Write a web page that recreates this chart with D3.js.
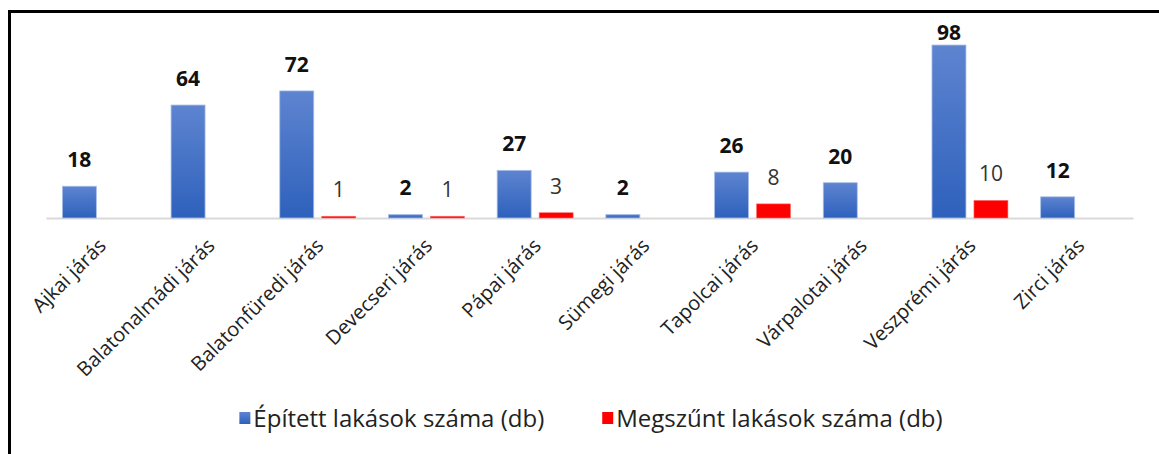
<!DOCTYPE html>
<html>
<head>
<meta charset="utf-8">
<script src="https://cdn.jsdelivr.net/npm/d3@7"></script>
<style>
  body { margin: 0; background: #fff; }
  svg text { font-family: "Open Sans", "Noto Sans", sans-serif; }
</style>
</head>
<body>
<svg id="chart" width="1159" height="454"></svg>
<script>
const categories = ["Ajkai járás", "Balatonalmádi járás", "Balatonfüredi járás", "Devecseri járás",
  "Pápai járás", "Sümegi járás", "Tapolcai járás", "Várpalotai járás", "Veszprémi járás", "Zirci járás"];
const built = [18, 64, 72, 2, 27, 2, 26, 20, 98, 12];
const demolished = [null, null, 1, 1, 3, null, 8, null, 10, null];
const seriesNames = ["Épített lakások száma (db)", "Megszűnt lakások száma (db)"];

const svg = d3.select("#chart");
const width = +svg.attr("width");
const height = +svg.attr("height");
const plot = { left: 46, right: 1133, top: 41.5, bottom: 218 };

// frame: only left + top edges are visible in the reference
svg.append("path")
  .attr("d", `M9.5,${height} V11.5 H${width}`)
  .attr("fill", "none").attr("stroke", "#000").attr("stroke-width", 3);

const defs = svg.append("defs");
const grad = defs.append("linearGradient").attr("id", "blueGrad")
  .attr("x1", 0).attr("y1", 0).attr("x2", 0).attr("y2", 1);
grad.append("stop").attr("offset", "0%").attr("stop-color", "#5E84D0");
grad.append("stop").attr("offset", "100%").attr("stop-color", "#2E61BC");

const x0 = d3.scaleBand().domain(categories).range([plot.left, plot.right]).padding(0);
const x1 = d3.scaleBand().domain(["built", "demolished"]).range([0, x0.bandwidth()])
  .paddingInner(0.19).paddingOuter(0.39);
const y = d3.scaleLinear().domain([0, 100]).range([plot.bottom, plot.top]);

const rows = categories.map((c, i) => ({ cat: c, built: built[i], demolished: demolished[i] }));

function renderAxis() {
  const axis = svg.append("g")
    .attr("transform", `translate(0,${plot.bottom})`)
    .call(d3.axisBottom(x0).tickSize(0).tickSizeOuter(0));
  axis.select(".domain").attr("stroke", "#D9D9D9").attr("stroke-width", 2);
  axis.selectAll(".tick text")
    .attr("x", 0).attr("y", 0).attr("dy", 0)
    .attr("transform", "translate(7,29) rotate(-45)")
    .attr("text-anchor", "end")
    .attr("fill", "#222")
    .style("font-size", "20px")
    .style("font-family", "'Open Sans', sans-serif");
}

function renderBars() {
  const groups = svg.append("g").selectAll("g")
    .data(rows).enter().append("g")
    .attr("transform", d => `translate(${x0(d.cat)},0)`);

  groups.append("rect")
    .attr("x", x1("built"))
    .attr("width", x1.bandwidth())
    .attr("y", d => y(d.built))
    .attr("height", d => y(0) - y(d.built))
    .attr("fill", "url(#blueGrad)")
    .attr("stroke", "#A8BFE8").attr("stroke-width", 0.8);

  groups.filter(d => d.demolished != null).append("rect")
    .attr("x", x1("demolished"))
    .attr("width", x1.bandwidth())
    .attr("y", d => y(d.demolished))
    .attr("height", d => y(0) - y(d.demolished))
    .attr("fill", "#FF0000")
    .attr("stroke", "#FF7070").attr("stroke-width", 0.6);

  groups.append("text")
    .attr("x", x1("built") + x1.bandwidth() / 2)
    .attr("y", d => Math.max(y(d.built) - 19, 40))
    .attr("text-anchor", "middle")
    .attr("fill", "#111")
    .style("font-weight", "bold")
    .style("font-size", "21px")
    .text(d => d.built);

  groups.filter(d => d.demolished != null).append("text")
    .attr("x", x1("demolished") + x1.bandwidth() / 2)
    .attr("y", d => y(d.demolished) - 19)
    .attr("text-anchor", "middle")
    .attr("fill", "#333")
    .style("font-size", "21px")
    .text(d => d.demolished);
}

function renderLegend() {
  const legend = svg.append("g");
  const colors = ["url(#blueGrad)", "#FF0000"];
  let cx = 0;
  seriesNames.forEach((name, i) => {
    const item = legend.append("g").attr("transform", `translate(${cx},0)`);
    item.append("rect").attr("x", 0).attr("y", -15).attr("width", 11).attr("height", 12)
      .attr("fill", colors[i]);
    const t = item.append("text").attr("x", 14).attr("y", 0)
      .attr("fill", "#222").style("font-size", "24px").text(name);
    cx += 14 + t.node().getComputedTextLength() + 58;
  });
  const total = cx - 58;
  legend.attr("transform", `translate(${591 - total / 2},427)`);
}

renderAxis();
renderBars();
renderLegend();
</script>
</body>
</html>
